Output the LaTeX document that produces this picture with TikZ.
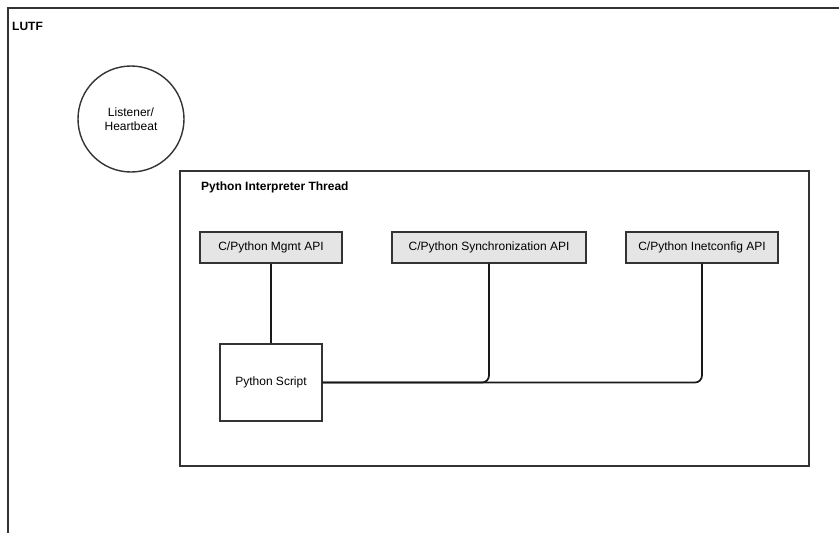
\documentclass[tikz,border=0pt]{standalone}
\usepackage{fontspec}
\setmainfont{Liberation Sans}
\begin{document}
\begin{tikzpicture}[x=1pt,y=-1pt,
  frame/.style={draw=black!80,line width=1.4pt},
  apibox/.style={draw=black!80,line width=1.4pt,fill=black!10,minimum height=31pt,inner sep=0pt,font=\fontsize{12}{14}\selectfont},
  scriptbox/.style={draw=black!80,line width=1.4pt,fill=white,minimum width=102pt,minimum height=77pt,inner sep=0pt,font=\fontsize{12}{14}\selectfont},
  conn/.style={draw=black!90,line width=1.7pt,rounded corners=7pt},
  title/.style={font=\bfseries\fontsize{12}{14}\selectfont,anchor=west,inner sep=0pt}]
\clip (0,0) rectangle (839,533);
% outer LUTF frame (cropped by the page)
\draw[frame] (8,8) rectangle (900,600);
\node[title] (lutf) at (12,26) {LUTF};
% listener
\node[circle,draw=black!80,line width=1.4pt,minimum size=106pt,inner sep=0pt,align=center,font=\fontsize{12}{14}\selectfont] (listener) at (131,119) {Listener/\\Heartbeat};
% thread frame
\draw[frame] (180,171) rectangle (809,466);
\node[title] (thread) at (201,187) {Python Interpreter Thread};
% API boxes
\node[apibox,minimum width=142pt] (mgmt) at (271,247.5) {C/Python Mgmt API};
\node[apibox,minimum width=194pt] (sync) at (489,247.5) {C/Python Synchronization API};
\node[apibox,minimum width=152pt] (inet) at (702,247.5) {C/Python Inetconfig API};
% script
\node[scriptbox] (script) at (271,382.5) {Python Script};
% connectors
\draw[conn] (mgmt.south) -- (script.north);
\draw[conn] (script.east) -| (sync.south);
\draw[conn] (script.east) -| (inet.south);
\end{tikzpicture}
\end{document}
